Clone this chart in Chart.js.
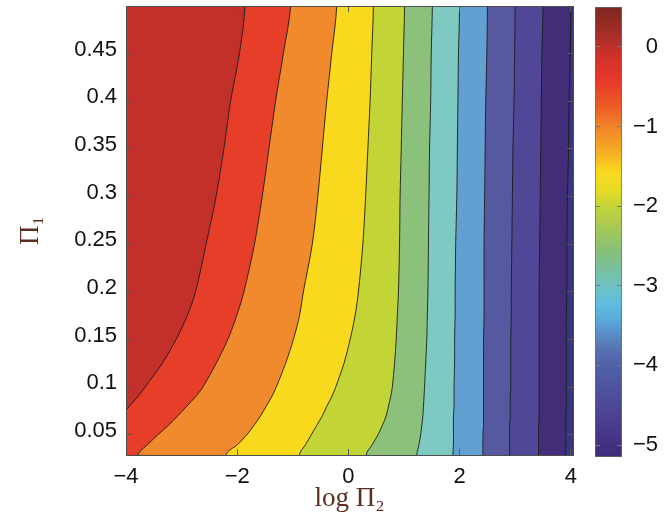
<!DOCTYPE html>
<html>
<head>
<meta charset="utf-8">
<script src="https://cdn.jsdelivr.net/npm/chart.js@4.4.1/dist/chart.umd.min.js"></script>
<style>
  html, body { margin: 0; padding: 0; background: #ffffff; }
  #wrap { position: relative; width: 670px; height: 519px; }
  #plot { position: absolute; left: 0; top: 0; }
  #cbar { position: absolute; left: 560px; top: 0; }
</style>
</head>
<body>
<div id="wrap">
  <canvas id="plot" width="670" height="519"></canvas>
  <canvas id="cbar" width="110" height="519"></canvas>
</div>
<script>
// Π1 sample rows shared by every contour boundary (top to bottom)
const pi1 = [0.5, 0.45, 0.4, 0.35, 0.3, 0.25, 0.2, 0.175, 0.15, 0.125, 0.1, 0.09, 0.08, 0.07, 0.06, 0.05, 0.04, 0.029];

// contour levels of the plotted quantity
const levels = [0, -0.5, -1, -1.5, -2, -2.5, -3, -3.5, -4, -4.5, -5];

// log Π2 position of each contour boundary at the Π1 rows above
const logPi2_0   = [-1.86, -1.96, -2.12, -2.24, -2.38, -2.56, -2.75, -2.90, -3.10, -3.35, -3.66, -3.79, -3.94, -4.09, -4.24, -4.39, -4.55, -4.72];
const logPi2_m05 = [-1.04, -1.17, -1.31, -1.43, -1.55, -1.69, -1.88, -2.01, -2.17, -2.38, -2.62, -2.75, -2.91, -3.07, -3.24, -3.43, -3.61, -3.78];
const logPi2_m10 = [-0.21, -0.30, -0.39, -0.47, -0.55, -0.65, -0.81, -0.88, -0.99, -1.13, -1.30, -1.38, -1.48, -1.58, -1.70, -1.83, -1.99, -2.20];
const logPi2_m15 = [0.45, 0.42, 0.39, 0.35, 0.31, 0.26, 0.18, 0.12, 0.03, -0.08, -0.23, -0.30, -0.39, -0.47, -0.57, -0.67, -0.77, -0.88];
const logPi2_m20 = [1.01, 0.99, 0.97, 0.95, 0.93, 0.92, 0.90, 0.88, 0.86, 0.83, 0.79, 0.76, 0.72, 0.68, 0.61, 0.53, 0.43, 0.32];
const logPi2_m25 = [1.51, 1.49, 1.48, 1.46, 1.45, 1.44, 1.43, 1.42, 1.41, 1.39, 1.37, 1.36, 1.35, 1.34, 1.32, 1.30, 1.27, 1.23];
const logPi2_m30 = [2.00, 1.98, 1.97, 1.96, 1.95, 1.93, 1.92, 1.92, 1.91, 1.91, 1.90, 1.90, 1.90, 1.89, 1.89, 1.89, 1.89, 1.88];
const logPi2_m35 = [2.50, 2.49, 2.47, 2.46, 2.45, 2.44, 2.44, 2.44, 2.43, 2.43, 2.43, 2.43, 2.43, 2.43, 2.43, 2.42, 2.42, 2.42];
const logPi2_m40 = [3.00, 2.99, 2.98, 2.96, 2.95, 2.94, 2.93, 2.93, 2.92, 2.92, 2.92, 2.91, 2.91, 2.91, 2.90, 2.90, 2.90, 2.90];
const logPi2_m45 = [3.50, 3.48, 3.47, 3.46, 3.45, 3.44, 3.43, 3.43, 3.43, 3.43, 3.43, 3.43, 3.43, 3.43, 3.42, 3.42, 3.42, 3.42];
const logPi2_m50 = [4.00, 3.99, 3.97, 3.96, 3.94, 3.93, 3.93, 3.92, 3.92, 3.92, 3.92, 3.92, 3.92, 3.91, 3.91, 3.91, 3.91, 3.90];

// axis extents and ticks
const logPi2Range = [-4, 4.04];
const pi1Range = [0.029, 0.5];
const colorRange = [-5.15, 0.5];
const xTickValues = [-4, -2, 0, 2, 4];
const xTickLabels = ['\u22124', '\u22122', '0', '2', '4'];
const yTickValues = [0.05, 0.1, 0.15, 0.2, 0.25, 0.3, 0.35, 0.4, 0.45];
const yTickLabels = ['0.05', '0.1', '0.15', '0.2', '0.25', '0.3', '0.35', '0.4', '0.45'];
const cbTickValues = [0, -1, -2, -3, -4, -5];
const cbTickLabels = ['0', '\u22121', '\u22122', '\u22123', '\u22124', '\u22125'];

// ---- styling ----
const boundaries = [logPi2_0, logPi2_m05, logPi2_m10, logPi2_m15, logPi2_m20, logPi2_m25,
                    logPi2_m30, logPi2_m35, logPi2_m40, logPi2_m45, logPi2_m50];
// fill colour above the first level, then the fill beyond each successive level
const bandColors = ['#c3302a', '#e63e28', '#f08a2d', '#f9d91e', '#c3d436', '#8cc17c',
                    '#7ec9c1', '#63a0d2', '#5659a0', '#504796', '#442d78', '#37377d'];
const colormapStops = [
  [0.000, '#7d271f'], [0.073, '#b02f2a'], [0.118, '#d4332a'], [0.162, '#e8372a'],
  [0.218, '#ec5a26'], [0.267, '#f0842a'], [0.318, '#f5aa24'], [0.367, '#f9d820'],
  [0.407, '#e6dc25'], [0.447, '#c0d23a'], [0.496, '#a2c85a'], [0.540, '#88c078'],
  [0.584, '#78c0a0'], [0.622, '#6ec2c4'], [0.662, '#5cbde0'], [0.696, '#5aa8d8'],
  [0.729, '#5a8cc4'], [0.762, '#5672b0'], [0.800, '#5060a6'], [0.873, '#4e4c9a'],
  [0.947, '#48378a'], [1.000, '#3e2a78']
];
const labelBrown = '#5b2e1f';
const tickFont = { family: "'Liberation Sans', Arial, Helvetica, sans-serif", size: 22 };
const titleFont = { family: "'Liberation Serif', 'Times New Roman', serif", size: 27 };
const curveTension = 0.3;

Chart.defaults.font.family = tickFont.family;
Chart.defaults.color = '#111111';

const lookup = (values, labels) => (v) => {
  const i = values.findIndex(t => Math.abs(t - v) < 1e-9);
  return i >= 0 ? labels[i] : '';
};
const fixedTicks = (values) => (axis) => { axis.ticks = values.map(v => ({ value: v })); };
// fixed axis thickness, and no extra room reserved for overhanging labels
const fixedSize = (prop, size) => (s) => {
  s[prop] = size;
  s.paddingTop = 0; s.paddingBottom = 0; s.paddingLeft = 0; s.paddingRight = 0;
};

// ---- filled contour bands ----
const xLo = logPi2Range[0] - 1, xHi = logPi2Range[1] + 1;
const yLo = pi1Range[0] - 0.1, yHi = pi1Range[1] + 0.1;
const datasets = [];

datasets.push({
  data: [{ x: xLo, y: yHi }, { x: xLo, y: yLo }, { x: xHi, y: yLo }, { x: xHi, y: yHi }],
  fill: 'shape', backgroundColor: bandColors[0], tension: 0,
  borderWidth: 0, borderColor: 'rgba(0,0,0,0)', pointRadius: 0, order: 100
});

// each boundary continues straight past the top and bottom edges (clipped away)
const boundaryPoints = boundaries.map((bx) => {
  const pts = bx.map((x, i) => ({ x: x, y: pi1[i] }));
  return [{ x: pts[0].x, y: yHi }, ...pts, { x: pts[pts.length - 1].x, y: yLo }];
});

boundaryPoints.forEach((pts, k) => {
  datasets.push({
    label: 'level ' + levels[k],
    data: [...pts, { x: xHi, y: yLo }, { x: xHi, y: yHi }],
    fill: 'shape', backgroundColor: bandColors[k + 1], tension: curveTension,
    borderWidth: 0, borderColor: 'rgba(0,0,0,0)', pointRadius: 0, order: 50 - k
  });
});

// contour lines on top of the bands
boundaryPoints.forEach((pts) => {
  datasets.push({
    data: pts, fill: false, tension: curveTension,
    borderColor: '#1c1c1c', borderWidth: 0.9, pointRadius: 0, order: 0
  });
});

const innerTicks = (len, color) => ({
  display: true, drawOnChartArea: false, drawTicks: true, tickLength: len, color: color, lineWidth: 1, z: 1
});
const frame = { display: true, color: '#4d4d4d', width: 1, z: 1 };

new Chart(document.getElementById('plot'), {
  type: 'line',
  data: { datasets: datasets },
  options: {
    responsive: false, animation: false, events: [],
    elements: { line: { capBezierPoints: false } },
    layout: { padding: { left: 0, top: 6, right: 97, bottom: 0 } },
    plugins: { legend: { display: false }, tooltip: { enabled: false } },
    scales: {
      x: {
        type: 'linear', position: 'bottom', min: logPi2Range[0], max: logPi2Range[1],
        afterBuildTicks: fixedTicks(xTickValues),
        afterFit: fixedSize('height', 64),
        grid: innerTicks(-6, '#5a5a5a'), border: frame,
        ticks: { font: tickFont, color: '#111', padding: 15, maxRotation: 0, autoSkip: false,
                 callback: lookup(xTickValues, xTickLabels) },
        title: { display: true, text: 'log \u03A0\u2082', font: titleFont, color: labelBrown,
                 padding: { top: 0, bottom: 4 } }
      },
      xTop: {
        type: 'linear', position: 'top', min: logPi2Range[0], max: logPi2Range[1],
        afterBuildTicks: fixedTicks(xTickValues),
        afterFit: fixedSize('height', 0),
        grid: innerTicks(-6, '#5a5a5a'), border: frame,
        ticks: { display: false }
      },
      y: {
        type: 'linear', position: 'left', min: pi1Range[0], max: pi1Range[1],
        afterBuildTicks: fixedTicks(yTickValues),
        afterFit: fixedSize('width', 126),
        grid: innerTicks(-6, '#5a5a5a'), border: frame,
        ticks: { font: tickFont, color: '#111', padding: 15, labelOffset: -4, autoSkip: false,
                 callback: lookup(yTickValues, yTickLabels) },
        title: { display: true, text: '\u03A0\u2081', font: titleFont, color: labelBrown,
                 padding: { top: 15, bottom: 0 } }
      },
      yRight: {
        type: 'linear', position: 'right', min: pi1Range[0], max: pi1Range[1],
        afterBuildTicks: fixedTicks(yTickValues),
        afterFit: fixedSize('width', 0),
        grid: innerTicks(-6, '#5a5a5a'), border: frame,
        ticks: { display: false }
      }
    }
  }
});

// ---- colour bar ----
new Chart(document.getElementById('cbar'), {
  type: 'bar',
  data: {
    labels: [''],
    datasets: [{
      data: [colorRange],
      backgroundColor: (ctx) => {
        const area = ctx.chart.chartArea;
        if (!area) return '#888';
        const g = ctx.chart.ctx.createLinearGradient(0, area.top, 0, area.bottom);
        colormapStops.forEach(([t, c]) => g.addColorStop(t, c));
        return g;
      },
      borderColor: '#6a6a6a', borderWidth: 1, borderSkipped: false,
      barPercentage: 1, categoryPercentage: 1
    }]
  },
  options: {
    responsive: false, animation: false, events: [],
    layout: { padding: { left: 35, top: 7, right: 12, bottom: 62 } },
    plugins: { legend: { display: false }, tooltip: { enabled: false } },
    scales: {
      x: { display: false },
      y: {
        position: 'right', min: colorRange[0], max: colorRange[1],
        afterBuildTicks: fixedTicks(cbTickValues),
        afterFit: fixedSize('width', 36),
        grid: innerTicks(-5, '#7a7a7a'), border: { display: false },
        ticks: { font: tickFont, color: '#111', padding: 0, crossAlign: 'far', autoSkip: false,
                 callback: lookup(cbTickValues, cbTickLabels) }
      },
      yLeft: {
        position: 'left', min: colorRange[0], max: colorRange[1],
        afterBuildTicks: fixedTicks(cbTickValues),
        afterFit: fixedSize('width', 0),
        grid: innerTicks(-5, '#7a7a7a'), border: { display: false },
        ticks: { display: false }
      }
    }
  }
});
</script>
</body>
</html>
